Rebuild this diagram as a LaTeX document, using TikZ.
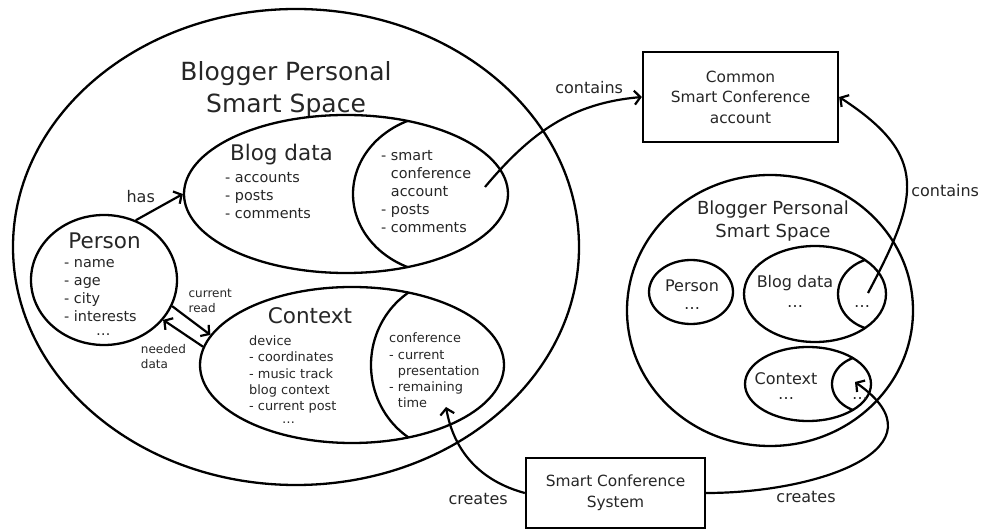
\documentclass[tikz,border=0pt]{standalone}
\usepackage{fontspec}
\setmainfont{DejaVu Sans}
\usetikzlibrary{shapes.geometric,arrows.meta}

\tikzset{
  region/.style = {draw, ellipse, line width=2.3pt, inner sep=0pt},
  lens/.style = {line width=2.3pt},
  box/.style = {draw, rectangle, line width=2.3pt, align=center, font=\fontsize{15.4}{20.5}\selectfont},
  arr/.style = {line width=2.2pt, -{Straight Barb[length=6pt,width=14pt]}},
  title/.style = {align=center, anchor=base, inner sep=0pt},
  big/.style = {anchor=base, inner sep=0pt, font=\fontsize{21.5}{26}\selectfont},
  items/.style = {align=left, anchor=base west, inner sep=0pt, font=\fontsize{14.4}{18}\selectfont},
  smallitems/.style = {align=left, anchor=base west, inner sep=0pt, font=\fontsize{12.9}{16.3}\selectfont},
  note/.style = {align=left, inner sep=2pt, font=\fontsize{12}{15}\selectfont},
  edgelabel/.style = {font=\fontsize{16}{19}\selectfont},
  dots/.style = {anchor=base, inner sep=0pt, font=\fontsize{16}{20}\selectfont}
}

\begin{document}
\begin{tikzpicture}[x=1pt, y=1pt, every node/.append style={text=black!85}]
  \useasboundingbox (0,0) rectangle (982,530);

  \node[region, minimum width=566, minimum height=476] (space) at (296,283) {};
  \node[title, font=\fontsize{25}{32}\selectfont] (spacetitle) at (286,417) {Blogger Personal\\Smart Space};

  \node[region, minimum width=146, minimum height=130] (person) at (104,250) {};
  \node[big] (persontitle) at (104.5,281) {Person};
  \node[items] (personitems) at (64,194) {- name\\- age\\- city\\- interests\\[-4pt]\hspace*{32pt}…};

  \node[region, minimum width=324, minimum height=158] (blog) at (346,336) {};
  \begin{scope}
    \clip (346,336) ellipse (162 and 79);
    \draw[lens] (445,336) ellipse (92 and 80);
  \end{scope}
  \node[big] (blogtitle) at (281.5,369) {Blog data};
  \node[items] (blogitems) at (225,311) {- accounts\\- posts\\- comments};
  \node[items] (blogshared) at (381,297) {- smart\\\hphantom{- }conference\\\hphantom{- }account\\- posts\\- comments};

  \node[region, minimum width=304, minimum height=156] (context) at (352,165) {};
  \begin{scope}
    \clip (352,165) ellipse (152 and 78);
    \draw[lens] (455,165) ellipse (84 and 87);
  \end{scope}
  \node[big] (contexttitle) at (310,206) {Context};
  \node[smallitems] (contextitems) at (249,106) {device\\- coordinates\\- music track\\blog context\\- current post\\[-3pt]\hspace*{33pt}…};
  \node[smallitems] (confitems) at (389,122) {conference\\- current\\\hphantom{- }presentation\\- remaining\\\hphantom{- }time};

  \draw[arr] (person.62) -- (blog.west) node[midway, anchor=south east, edgelabel] {has};
  \draw[arr] (person.-21) -- (context.168) node[pos=.35, anchor=south west, note] {current\\read};
  \draw[arr] (context.173) -- (person.-34) node[pos=.35, anchor=north east, yshift=-4pt, note] {needed\\data};

  \node[box, minimum width=195, minimum height=90] (common) at (740.5,433) {Common\\Smart Conference\\account};
  \node[box, minimum width=179, minimum height=70] (system) at (615.5,37) {Smart Conference\\System};

  \node[region, minimum width=286, minimum height=271] (spaceR) at (770,219.5) {};
  \node[title, font=\fontsize{18}{23}\selectfont] (spaceRtitle) at (773,292) {Blogger Personal\\Smart Space};

  \node[region, minimum width=84, minimum height=64] (personR) at (691,238) {};
  \node[title, font=\fontsize{16}{18}\selectfont] (personRtext) at (692,220) {Person\\…};

  \node[region, minimum width=142, minimum height=96] (blogR) at (815,236) {};
  \begin{scope}
    \clip (815,236) ellipse (71 and 48);
    \draw[lens] (880,236) ellipse (42 and 36.4);
  \end{scope}
  \node[title, font=\fontsize{16}{20}\selectfont] (blogRtext) at (795,222) {Blog data\\…};
  \node[dots] (blogRshared) at (862,222) {…};

  \node[region, minimum width=126, minimum height=74] (contextR) at (808,146) {};
  \begin{scope}
    \clip (808,146) ellipse (63 and 37);
    \draw[lens] (868,146) ellipse (36 and 28.6);
  \end{scope}
  \node[title, font=\fontsize{16}{15}\selectfont] (contextRtext) at (786,130) {Context\\…};
  \node[dots] (contextRconf) at (860,130) {…};

  \coordinate (blogaccount) at (485,343);
  \coordinate (confend) at (446,123);
  \coordinate (blogaccountR) at (868,237);
  \coordinate (contextendR) at (855,148);

  \draw[arr] (blogaccount) to[out=50, in=185] node[pos=.93, above left, edgelabel] {contains} (common.west);
  \draw[arr] (blogaccountR) to[out=62, in=-33, looseness=1.4] node[pos=.45, anchor=west, edgelabel] {contains} (common.east);
  \draw[arr] (system.west) to[out=165, in=-80] node[pos=.1, below left, edgelabel] {creates} (confend);
  \draw[arr] (system.east) to[out=0, in=-35, looseness=1.57] node[pos=.3, below=5pt, edgelabel] {creates} (contextendR);
\end{tikzpicture}
\end{document}
